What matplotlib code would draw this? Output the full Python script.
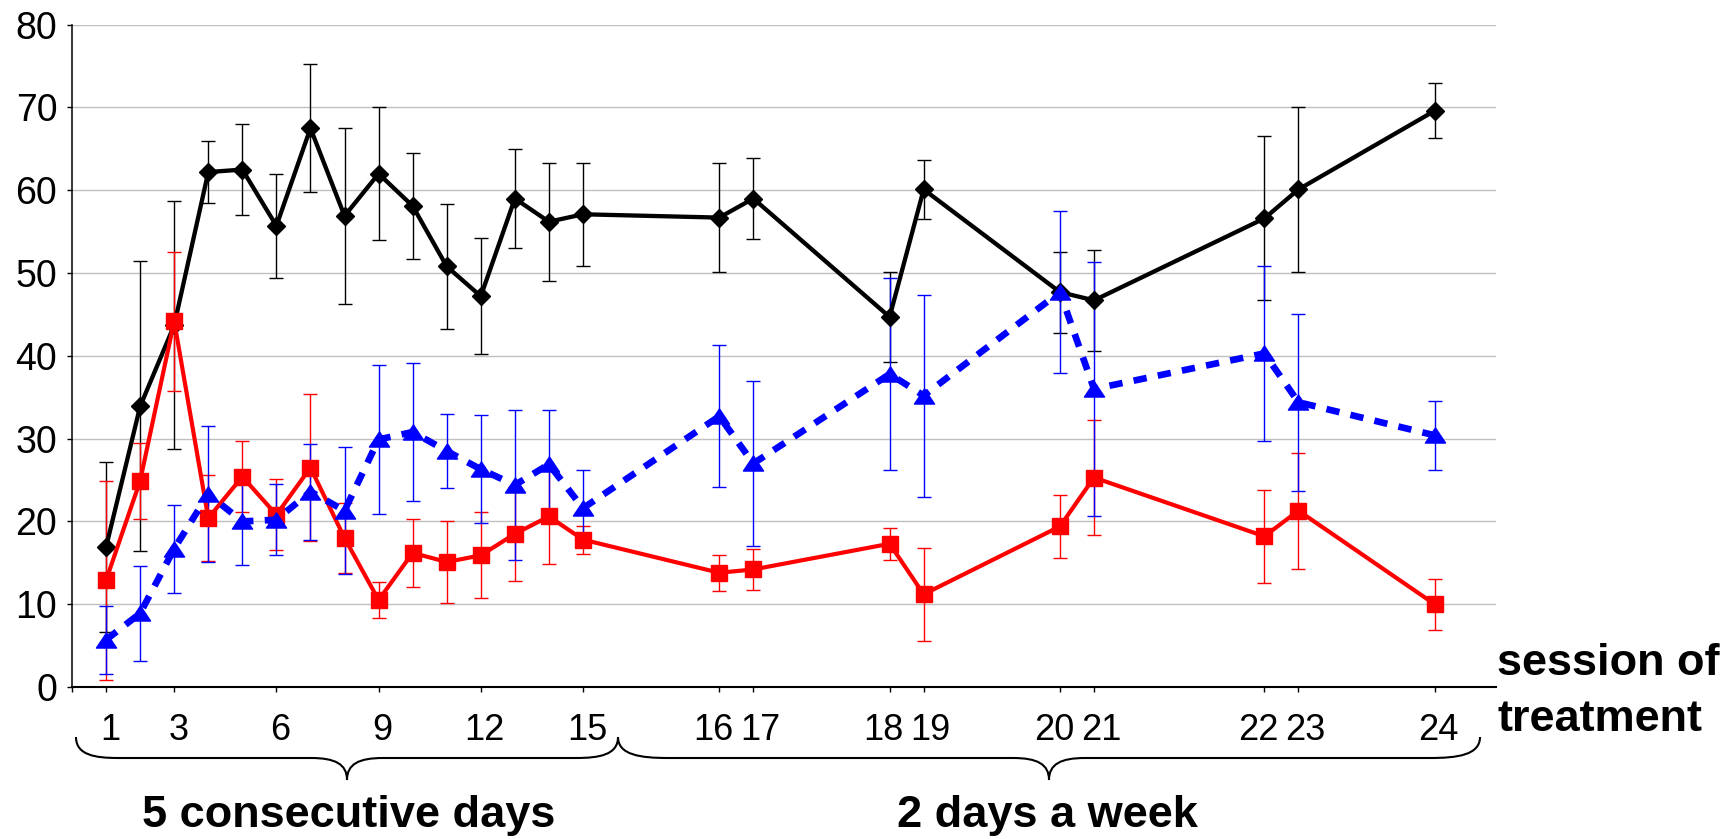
import matplotlib
matplotlib.use('Agg')
import matplotlib.pyplot as plt
import matplotlib.transforms as mtransforms
from matplotlib.path import Path
from matplotlib.patches import PathPatch

plt.rcParams['font.family'] = ['Liberation Sans', 'DejaVu Sans']

# session number and where it sits on the time axis
sessions = list(range(1, 25))
day_pos = [1, 2, 3, 4, 5, 6, 7, 8, 9, 10, 11, 12, 13, 14, 15,
           19, 20, 24, 25, 29, 30, 35, 36, 40]
labelled = [1, 3, 6, 9, 12, 15, 16, 17, 18, 19, 20, 21, 22, 23, 24]

black_mean = [16.9, 33.9, 43.7, 62.2, 62.5, 55.7, 67.5, 56.9, 62.0, 58.1, 50.8, 47.2,
              59.0, 56.2, 57.1, 56.7, 59.0, 44.7, 60.1, 47.7, 46.7, 56.6, 60.1, 69.6]
black_sd = [10.3, 17.5, 15.0, 3.7, 5.5, 6.3, 7.7, 10.6, 8.0, 6.4, 7.5, 7.0,
            6.0, 7.1, 6.2, 6.6, 4.9, 5.4, 3.6, 4.9, 6.1, 9.9, 10.0, 3.3]

red_mean = [12.9, 24.9, 44.2, 20.4, 25.4, 20.8, 26.5, 18.0, 10.5, 16.2, 15.1, 15.9,
            18.5, 20.6, 17.8, 13.8, 14.2, 17.3, 11.2, 19.4, 25.3, 18.2, 21.3, 10.0]
red_sd = [12.0, 4.6, 8.4, 5.2, 4.3, 4.3, 8.9, 4.2, 2.2, 4.1, 5.0, 5.2,
          5.7, 5.8, 1.7, 2.2, 2.5, 1.9, 5.6, 3.8, 7.0, 5.6, 7.0, 3.1]

blue_mean = [5.7, 8.9, 16.7, 23.3, 20.0, 20.2, 23.6, 21.3, 29.9, 30.8, 28.5, 26.3,
             24.4, 26.9, 21.6, 32.7, 27.0, 37.8, 35.2, 47.7, 36.0, 40.3, 34.4, 30.4]
blue_sd = [4.1, 5.7, 5.3, 8.2, 5.3, 4.3, 5.8, 7.7, 9.0, 8.3, 4.5, 6.5,
           9.0, 6.6, 4.6, 8.6, 10.0, 11.6, 12.2, 9.8, 15.3, 10.6, 10.7, 4.2]

W, H = 1735, 839
fig = plt.figure(figsize=(W / 100, H / 100), dpi=100)
ax = fig.add_axes([72 / W, 1 - 687 / H, (1496 - 72) / W, (687 - 24.7) / H])


def fx(x, y):
    return (x / W, 1 - y / H)


# Excel-style triangle: wider than it is tall
tri = Path([(0, 0.75), (-1, -0.75), (1, -0.75), (0, 0.75)],
           [Path.MOVETO, Path.LINETO, Path.LINETO, Path.CLOSEPOLY])

# error bars first, then the lines on top
for mean, sd, col in [(black_mean, black_sd, 'black'), (red_mean, red_sd, 'red'),
                      (blue_mean, blue_sd, 'blue')]:
    ax.errorbar(day_pos, mean, yerr=sd, fmt='none', ecolor=col, elinewidth=1.0,
                capsize=4.8, capthick=1.0, zorder=2)

ax.plot(day_pos, black_mean, color='black', lw=3.1, marker='D', ms=9.5, zorder=3)
ax.plot(day_pos, red_mean, color='red', lw=3.0, marker='s', ms=12, zorder=4)
ax.plot(day_pos, blue_mean, color='blue', lw=4.8, linestyle=(0, (2.0, 1.7)),
        dash_capstyle='butt', marker=tri, ms=14.5, zorder=5)

ax.set_xlim(0, 41.8)
ax.set_ylim(0, 80)
ax.set_yticks(range(0, 81, 10))
ax.grid(axis='y', color='#c0c0c0', lw=1.0)
ax.set_axisbelow(True)

tick_pos = [0] + [day_pos[s - 1] for s in labelled]
ax.set_xticks(tick_pos)
ax.set_xticklabels([''] + [str(s) for s in labelled])

for side in ['top', 'right']:
    ax.spines[side].set_visible(False)
ax.spines['left'].set_linewidth(1.1)
ax.spines['bottom'].set_linewidth(1.5)

ax.tick_params(axis='y', labelsize=27, length=3.6, width=1.0, pad=7)
ax.tick_params(axis='x', labelsize=26, length=3.6, width=1.0, pad=15)

# labels sit a little right of their ticks, the pairs are pushed apart
for lab, s in zip(ax.get_xticklabels()[1:], labelled):
    if s in (16, 18, 20, 22):
        dx = -6
    elif s in (17, 19, 21, 23):
        dx = 7
    else:
        dx = 4
    lab.set_transform(lab.get_transform() +
                      mtransforms.ScaledTranslation(dx / 100, 0, fig.dpi_scale_trans))


def brace(x0, x1, ytop=737, ymid=758, ytip=780, r=42):
    xc = (x0 + x1) / 2
    pts = [(x0, ytop), (x0, ymid - 3), (x0 + r * 0.45, ymid), (x0 + r, ymid),
           (xc - 36, ymid),
           (xc - 12, ymid), (xc, ymid + 6), (xc, ytip),
           (xc, ymid + 6), (xc + 12, ymid), (xc + 36, ymid),
           (x1 - r, ymid),
           (x1 - r * 0.45, ymid), (x1, ymid - 3), (x1, ytop)]
    codes = [Path.MOVETO] + [Path.CURVE4] * 3 + [Path.LINETO] + [Path.CURVE4] * 6 + \
            [Path.LINETO] + [Path.CURVE4] * 3
    path = Path([fx(x, y) for x, y in pts], codes)
    fig.patches.append(PathPatch(path, transform=fig.transFigure, fill=False,
                                 lw=1.5, edgecolor='black'))


brace(76, 618)
brace(618, 1480, r=50)

fig.text(*fx(348.5, 827), '5 consecutive days', ha='center', va='baseline',
         fontsize=32.5, fontweight='bold')
fig.text(*fx(1047, 827), '2 days a week', ha='center', va='baseline',
         fontsize=32.5, fontweight='bold')
fig.text(*fx(1497, 675), 'session of', ha='left', va='baseline',
         fontsize=32.5, fontweight='bold')
fig.text(*fx(1497, 731), 'treatment', ha='left', va='baseline',
         fontsize=32.5, fontweight='bold')

fig.savefig('out.png', dpi=100)
